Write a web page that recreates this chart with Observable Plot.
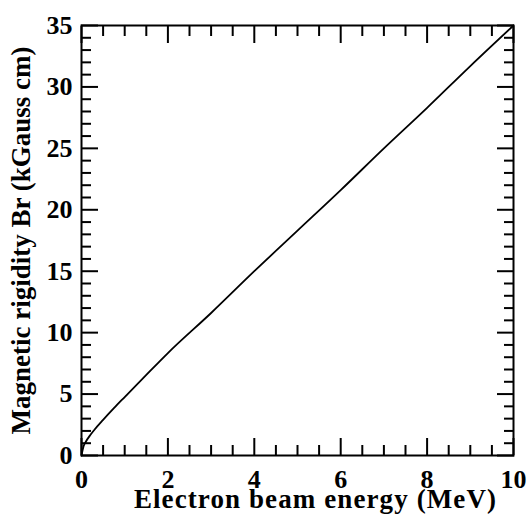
<!DOCTYPE html>
<html><head><meta charset="utf-8">
<script src="https://cdn.jsdelivr.net/npm/d3@7"></script>
<script src="https://cdn.jsdelivr.net/npm/@observablehq/plot@0.6"></script>
<style>
html,body{margin:0;padding:0;background:#fff}
#chart svg, #chart svg text{font-family:"Liberation Serif","Times New Roman",serif !important;font-weight:bold !important}
#chart svg [aria-label$="tick label"] text{font-size:26px !important}
#chart svg [aria-label="y-axis label"] text{font-size:27px !important;letter-spacing:0px}
</style></head><body><div id="chart"></div>
<script>
const energy   = [0, 0.05, 0.1, 0.2, 0.3, 0.5, 0.75, 1, 1.5, 2, 3, 4, 5, 6, 7, 8, 9, 10];
const rigidity = [0, 0.77, 1.12, 1.65, 2.1, 2.9, 3.85, 4.76, 6.56, 8.34, 11.6, 15.0, 18.3, 21.6, 25.0, 28.3, 31.7, 35.0];
const xMajorTicks = [0, 2, 4, 6, 8, 10];
const xMinorTicks = [0.5, 1, 1.5, 2.5, 3, 3.5, 4.5, 5, 5.5, 6.5, 7, 7.5, 8.5, 9, 9.5];
const yMajorTicks = [0, 5, 10, 15, 20, 25, 30, 35];
const yMinorTicks = [1,2,3,4,6,7,8,9,11,12,13,14,16,17,18,19,21,22,23,24,26,27,28,29,31,32,33,34];
const xLabel = "Electron beam energy (MeV)";
const yLabel = "Magnetic rigidity Br (kGauss cm)";

const data = energy.map((e, i) => ({energy: e, rigidity: rigidity[i]}));
const font = "Liberation Serif";
const blank = () => "";
const tickOpts = {label: null, tickFormat: blank, strokeWidth: 2};
const textOpts = {fontFamily: font, fontWeight: "bold", fontSize: 26};

const chart = Plot.plot({
  width: 527, height: 517,
  marginLeft: 81, marginRight: 14, marginTop: 25, marginBottom: 62,
  style: {fontFamily: font, fontSize: "26px", fontWeight: "bold", color: "#000", background: "#fff"},
  x: {domain: [0, 10]},
  y: {domain: [0, 35]},
  marks: [
    Plot.axisX(xMajorTicks, {anchor: "bottom", tickSize: -17, ...tickOpts}),
    Plot.axisX(xMinorTicks, {anchor: "bottom", tickSize: -10, ...tickOpts}),
    Plot.axisX(xMajorTicks, {anchor: "top", tickSize: -17, ...tickOpts}),
    Plot.axisX(xMinorTicks, {anchor: "top", tickSize: -10, ...tickOpts}),
    Plot.axisY(yMajorTicks, {anchor: "left", tickSize: -17, ...tickOpts}),
    Plot.axisY(yMinorTicks, {anchor: "left", tickSize: -10, ...tickOpts}),
    Plot.axisY(yMajorTicks, {anchor: "right", tickSize: -17, ...tickOpts}),
    Plot.axisY(yMinorTicks, {anchor: "right", tickSize: -10, ...tickOpts}),
    Plot.axisX(xMajorTicks, {anchor: "bottom", tickSize: 0, tickPadding: 14, label: null, ...textOpts}),
    Plot.axisY(yMajorTicks, {anchor: "left", tickSize: 0, tickPadding: 9, label: yLabel, labelAnchor: "center", labelArrow: "none", labelOffset: 71, ...textOpts}),
    Plot.text([xLabel], {text: d => d, frameAnchor: "bottom", lineAnchor: "middle", dy: 44, dx: 18, fontSize: 27, fontWeight: "bold", fontFamily: font, fill: "#000"}),
    Plot.frame({stroke: "#000", strokeWidth: 2}),
    Plot.line(data, {x: "energy", y: "rigidity", curve: "monotone-x", stroke: "#000", strokeWidth: 1.8})
  ]
});
chart.querySelectorAll('[aria-label="text"] text').forEach(t => t.style.letterSpacing = "1.1px");
document.getElementById("chart").append(chart);
</script></body></html>
